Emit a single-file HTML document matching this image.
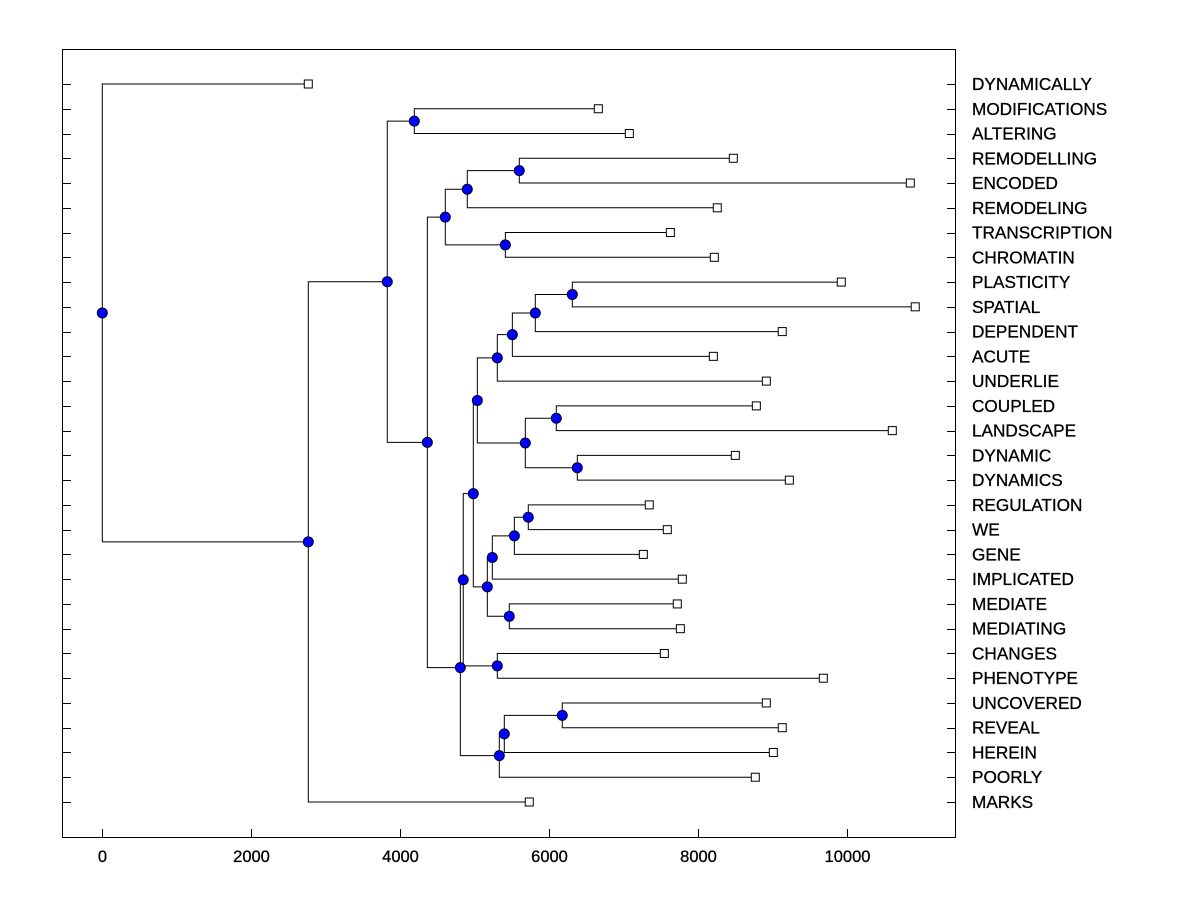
<!DOCTYPE html>
<html><head><meta charset="utf-8"><style>
body{margin:0;background:#fff;}
svg{display:block;font-family:"Liberation Sans",Arial,sans-serif;}
</style></head><body>
<svg id="chart" width="1200" height="900"></svg>
<script>
const leafLabels=["DYNAMICALLY","MODIFICATIONS","ALTERING","REMODELLING","ENCODED","REMODELING","TRANSCRIPTION","CHROMATIN","PLASTICITY","SPATIAL","DEPENDENT","ACUTE","UNDERLIE","COUPLED","LANDSCAPE","DYNAMIC","DYNAMICS","REGULATION","WE","GENE","IMPLICATED","MEDIATE","MEDIATING","CHANGES","PHENOTYPE","UNCOVERED","REVEAL","HEREIN","POORLY","MARKS"];
const leafValues=[2765,6658,7074,8470,10846,8255,7625,8215,9919,10912,9127,8202,8913,8779,10604,8497,9222,7342,7584,7262,7785,7718,7759,7544,9678,8913,9127,9007,8765,5731];
// merges: numbers are leaf indices, "n#" refer to earlier merges
const mergeA=[1,3,"n1",6,"n2",8,"n5","n6","n7",13,15,"n9","n8",17,"n13","n14",21,"n15","n12",23,"n18",25,"n21","n22","n20","n4","n0","n26",0];
const mergeB=[2,4,5,7,"n3",9,10,11,12,14,16,"n10","n11",18,19,20,22,"n16","n17",24,"n19",26,27,28,"n23","n24","n25",29,"n27"];
const mergeValues=[4188,5597,4899,5410,4604,6309,5812,5504,5302,6094,6376,5678,5034,5718,5531,5235,5463,5168,4980,5302,4845,6174,5396,5329,4806,4363,3825,2765,0];
const xTicks=[0,2000,4000,6000,8000,10000];
</script>
<script>
const svg=document.getElementById('chart');
const NS='http://www.w3.org/2000/svg';
const X0=102.3,XS=0.0745;
const xs=v=>X0+v*XS;
const ROW0=84,ROWH=(802-84)/(leafLabels.length-1);
function mk(t,a,p){const e=document.createElementNS(NS,t);for(const k in a)e.setAttribute(k,a[k]);(p||svg).appendChild(e);return e;}
const leafPos=leafLabels.map((l,i)=>({x:xs(leafValues[i]),y:ROW0+i*ROWH}));
const g1=mk('g',{stroke:'#000','stroke-width':1,fill:'none'});


const built=[];
function get(id){return typeof id==='number'?leafPos[id]:built[+id.slice(1)];}
for(let i=0;i<mergeValues.length;i++){
 const A=get(mergeA[i]),B=get(mergeB[i]);const x=xs(mergeValues[i]);
 mk('path',{d:`M${A.x},${A.y}H${x}V${B.y}H${B.x}`},g1);
 built[i]={x:x,y:(A.y+B.y)/2};
}
const fr=mk('rect',{x:62.5,y:49.5,width:893,height:788,fill:'none',stroke:'#000'});


for(let i=0;i<leafLabels.length;i++){
 const y=Math.round(leafPos[i].y)+0.5;
 mk('line',{x1:62,x2:71,y1:y,y2:y,stroke:'#000'});
 mk('line',{x1:947,x2:956,y1:y,y2:y,stroke:'#000'});
 const t=mk('text',{x:972,y:leafPos[i].y+6,'font-size':17.2,fill:'#000',stroke:'#000','stroke-width':0.3});t.textContent=leafLabels[i];
 
 
}
xTicks.forEach(v=>{const x=Math.round(xs(v))+0.5;
 mk('line',{x1:x,x2:x,y1:829,y2:838,stroke:'#000'});
 const t=mk('text',{x:x,y:862,'font-size':16.5,'text-anchor':'middle',stroke:'#000','stroke-width':0.3});t.textContent=v;
 
 
});
leafPos.forEach(p=>{const r=mk('rect',{x:p.x-4,y:p.y-4,width:8,height:8,fill:'#fff',stroke:'#000'});
 
 });
built.forEach(n=>{const c=mk('circle',{cx:n.x,cy:n.y,r:5,fill:'#0000ff',stroke:'#000020','stroke-width':1});
 
 });
</script>
</body></html>
